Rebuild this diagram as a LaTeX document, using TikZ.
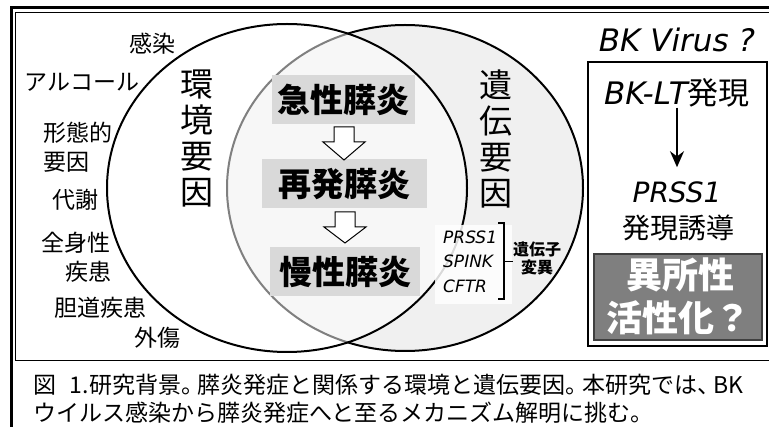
\documentclass[tikz,border=0pt]{standalone}
\usepackage{fontspec}
\newfontfamily\jp{Noto Sans CJK JP}
\newfontfamily\dv{DejaVu Sans}
\usetikzlibrary{arrows.meta}
\definecolor{boxgray}{HTML}{D9D9D9}
\definecolor{darkbox}{HTML}{7F7F7F}
\definecolor{darkedge}{HTML}{3F3F3F}
\tikzset{
  lbl/.style={font=\jp\fontsize{23}{26}\selectfont, inner sep=0},
  vert/.style={font=\jp\fontsize{33}{36}\selectfont, inner sep=0, align=center},
  stagebox/.style={fill=boxgray, font=\jp\bfseries\fontsize{33}{36}\selectfont, minimum height=49, inner sep=0},
  hollowarrow/.style={draw=black, fill=white, line width=1},
  gene/.style={font=\dv\itshape\fontsize{17}{20}\selectfont, inner sep=0, anchor=west},
  small/.style={font=\jp\bfseries\fontsize{16}{18}\selectfont, inner sep=0, align=center},
  rt/.style={inner sep=0},
  captext/.style={font=\jp\fontsize{23}{26}\selectfont, inner sep=0, anchor=west},
}
\newcommand\harrow[4]{\draw[hollowarrow] (#1-10,#2) -- (#1+10,#2) -- (#1+10,#3) -- (#1+21,#3) -- (#1,#4) -- (#1-21,#3) -- (#1-10,#3) -- cycle;}
\newcommand\hp{\hspace{-0.28em}}
\begin{document}
\begin{tikzpicture}[x=1pt,y=-1pt]
\useasboundingbox (0,0) rectangle (769,427);
\fill[white] (0,0) rectangle (769,427);
% frame
\draw[line width=3.5] (775,7.5) -- (11.5,7.5) -- (11.5,440);
\draw[line width=1.2] (775,12.8) -- (15.6,12.8) -- (15.6,360.5) -- (775,360.5);
% Venn ellipses
\draw[line width=2, fill=black!6] (405,188) ellipse [x radius=178, y radius=163];
\draw[line width=2, fill=white, fill opacity=0.5] (287,188) ellipse [x radius=180, y radius=164];
% left labels
\node[lbl] (l1) at (152,44) {感染};
\node[lbl] (l2) at (82,82) {アルコール};
\node[lbl] (l3) at (78,133) {形態的};
\node[lbl, anchor=west] (l4) at (43,162) {要因};
\node[lbl] (l5) at (75,200) {代謝};
\node[lbl] (l6) at (76,243) {全身性};
\node[lbl, anchor=east] (l7) at (112,272) {疾患};
\node[lbl] (l8) at (100,308) {胆道疾患};
\node[lbl] (l9) at (157,338) {外傷};
% vertical titles
\node[vert] (env) at (197,139) {環\\境\\要\\因};
\node[vert] (gen) at (496,139) {遺\\伝\\要\\因};
% stages
\node[stagebox, minimum width=143] (s1) at (343.5,99.5) {急性膵炎};
\node[stagebox, minimum width=165] (s2) at (344.5,184) {再発膵炎};
\node[stagebox, minimum width=150] (s3) at (345,272) {慢性膵炎};
\harrow{344}{127}{142}{160}
\harrow{345}{212}{227}{243}
% gene box
\fill[white, opacity=0.85] (435,225) rectangle (512,304);
\node[gene] (g1) at (443,237.5) {PRSS1};
\node[gene] (g2) at (443,261.5) {SPINK};
\node[gene] (g3) at (443,286) {CFTR};
\draw[line width=1.2] (498,223) -- (504,223) -- (504,299) -- (498,299);
\coordinate (bm) at (504,261.5);
\node[small] (mut) at (537,258.5) {遺伝子\\変異};
\draw[line width=1.2] (bm) -- (513,261.5);
% right panel
\draw[line width=2] (588,62) rectangle (766.5,346);
\node[rt, font=\dv\itshape\fontsize{31}{34}\selectfont] (bkv) at (677,40) {BK Virus ?};
\node[rt] (bklt) at (677,93) {\fontsize{31}{34}\selectfont{\dv\itshape BK-LT}{\jp 発現}};
\node[rt, font=\dv\itshape\fontsize{28}{32}\selectfont] (prss) at (677,192) {PRSS1};
\node[rt, font=\jp\fontsize{28}{32}\selectfont] (ind) at (678,228) {発現誘導};
\draw[line width=2, -{Stealth[length=16, width=14]}, shorten <=0, shorten >=14] (bklt.south) -- (prss.north);
\node[draw=darkedge, line width=2, fill=darkbox, minimum width=168, minimum height=86, inner sep=0] (ect) at (678,297) {};
\node[rt, text=white, font=\jp\bfseries\fontsize{36}{40}\selectfont] (e1) at (680,275) {異所性};
\node[rt, text=white, font=\jp\bfseries\fontsize{36}{40}\selectfont] (e2) at (678,318) {活性化？};
% caption
\node[captext] (c1) at (33,385) {図\hspace{0.6em}1.研究背景。\hp 膵炎発症と関係する環境と遺伝要因。\hp 本研究では、\hp BK};
\node[captext] (c2) at (33,413) {ウイルス感染から膵炎発症へと至るメカニズム解明に挑む。};
\end{tikzpicture}
\end{document}
